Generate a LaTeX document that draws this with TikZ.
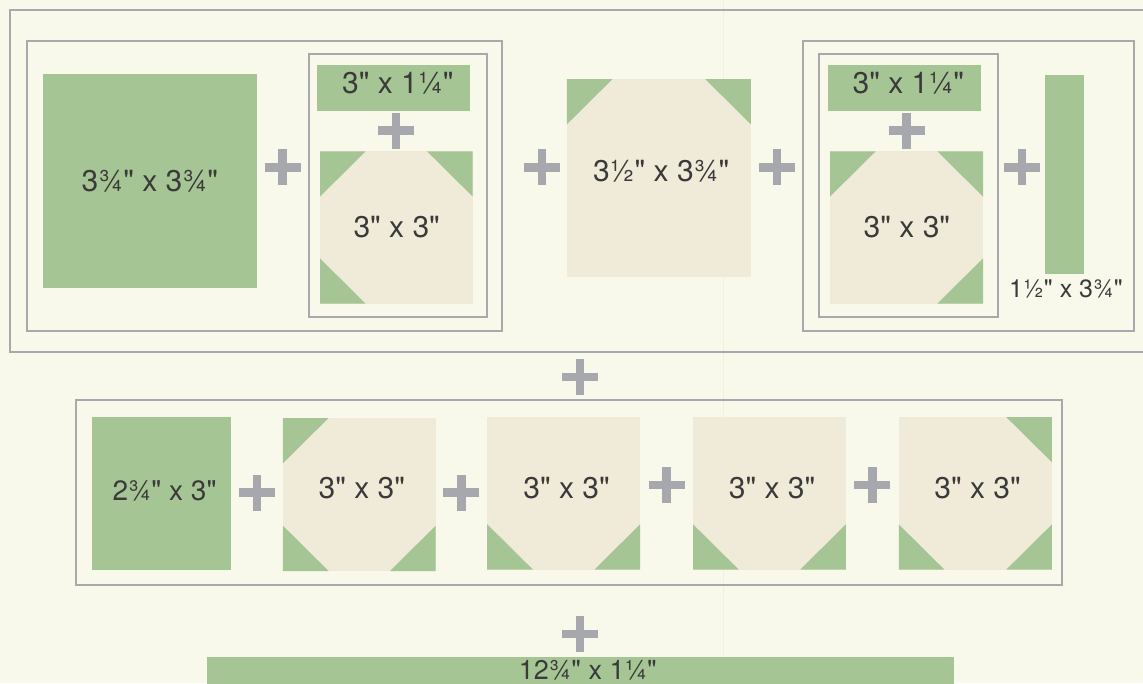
\documentclass[tikz,border=0pt]{standalone}
\usepackage{fontspec}
\setmainfont{TeX Gyre Heros}[Ligatures=TeXOff]
\definecolor{bgc}{HTML}{F8F9EB}
\definecolor{leaf}{HTML}{A6C595}
\definecolor{cream}{HTML}{F0EAD8}
\definecolor{framec}{HTML}{A9A9AD}
\definecolor{plusc}{HTML}{A7A8AD}
\definecolor{ink}{HTML}{3A3A3A}
\definecolor{faint}{HTML}{EEF1DC}
\tikzset{
  frm/.style={draw=framec, line width=2pt},
  lbl/.style={anchor=base, text=ink, inner sep=0pt, font=\fontsize{30}{36}\selectfont},
  plussign/.pic={\fill[plusc] (-18,-4.4) rectangle (18,4.4); \fill[plusc] (-4.4,-18) rectangle (4.4,18);}
}
% block: x1,y1,x2,y2
\newcommand\cblock[4]{\fill[cream] (#1,#2) rectangle (#3,#4);}
\newcommand\ctl[2]{\fill[leaf] (#1,#2) -- ++(45.7,0) -- ++(-45.7,45.3) -- cycle;}
\newcommand\ctr[2]{\fill[leaf] (#1,#2) -- ++(-45.7,0) -- ++(45.7,45.3) -- cycle;}
\newcommand\cbl[2]{\fill[leaf] (#1,#2) -- ++(45.7,0) -- ++(-45.7,-45.3) -- cycle;}
\newcommand\cbr[2]{\fill[leaf] (#1,#2) -- ++(-45.7,0) -- ++(45.7,-45.3) -- cycle;}
\begin{document}
\begin{tikzpicture}[x=1pt,y=-1pt]
\useasboundingbox (0,0) rectangle (1143,683);
\fill[bgc] (0,0) rectangle (1143,683);
\draw[faint, line width=0.8pt] (723.5,0) -- (723.5,683);

% ---------- top row ----------
\draw[frm] (1143,9.5) -- (9.5,9.5) -- (9.5,351.5) -- (1143,351.5);
\draw[frm] (26.5,40.5) rectangle (501.5,330.5);
\draw[frm] (309,53.5) rectangle (487,317);

\fill[leaf] (43,74) rectangle (256.7,287.7);
\node[lbl] (a1) at (149.8,191.7) {3¾" x 3¾"};
\pic at (282.7,167.3) {plussign};

\fill[leaf] (317,65) rectangle (470,110.7);
\node[lbl] (a2) at (397.8,93.3) {3" x 1¼"};
\pic at (396,130.7) {plussign};
\cblock{320}{151.3}{472.7}{303.7}
\ctl{320}{151.3}\ctr{472.7}{151.3}\cbl{320}{303.7}
\node[lbl] (a3) at (396.7,237.7) {3" x 3"};

\pic at (542,167.3) {plussign};
\cblock{566.9}{79}{750.8}{276.7}
\ctl{566.9}{79}\ctr{750.8}{79}
\node[lbl] (a4) at (661.2,181.7) {3½" x 3¾"};
\pic at (777,167.3) {plussign};

\draw[frm] (802.5,40.7) rectangle (1134,330.7);
\draw[frm] (819,53.5) rectangle (997.5,316.7);
\fill[leaf] (828,65) rectangle (981.2,110.7);
\node[lbl] (a5) at (908.3,93.3) {3" x 1¼"};
\pic at (906.5,130.7) {plussign};
\cblock{830}{151.3}{983}{303.7}
\ctl{830}{151.3}\ctr{983}{151.3}\cbr{983}{303.7}
\node[lbl] (a6) at (906.9,237.7) {3" x 3"};
\pic at (1022,167.3) {plussign};
\fill[leaf] (1045,75) rectangle (1084.2,274);
\node[lbl, font=\fontsize{25}{30}\selectfont] (a7) at (1066,297.7) {1½" x 3¾"};

\pic at (580,377) {plussign};

% ---------- middle row ----------
\draw[frm] (76,399.5) rectangle (1062,585);
\fill[leaf] (92.1,417) rectangle (231,570);
\node[lbl, font=\fontsize{28}{34}\selectfont] (b0) at (164.5,500) {2¾" x 3"};
\pic at (257,492.7) {plussign};

\cblock{282.9}{418}{435.7}{571}
\ctl{282.9}{418}\cbl{282.9}{571}\cbr{435.7}{571}
\node[lbl] (b1) at (361.8,498.3) {3" x 3"};
\pic at (461.4,492.7) {plussign};

\cblock{487.1}{417}{640.2}{569.5}
\cbl{487.1}{569.5}\cbr{640.2}{569.5}
\node[lbl] (b2) at (566.6,498.3) {3" x 3"};
\pic at (666.6,485) {plussign};

\cblock{693.1}{417}{845.8}{569.7}
\cbl{693.1}{569.7}\cbr{845.8}{569.7}
\node[lbl] (b3) at (772.1,498.3) {3" x 3"};
\pic at (872.3,485) {plussign};

\cblock{898.8}{417}{1051.9}{569.7}
\ctr{1051.9}{417}\cbl{898.8}{569.7}\cbr{1051.9}{569.7}
\node[lbl] (b4) at (977.6,498.3) {3" x 3"};

% ---------- bottom ----------
\pic at (580,634) {plussign};
\fill[leaf] (207,657) rectangle (954,690);
\node[lbl, font=\fontsize{27}{32}\selectfont] (c1) at (587.8,679) {12¾" x 1¼"};
\end{tikzpicture}
\end{document}
